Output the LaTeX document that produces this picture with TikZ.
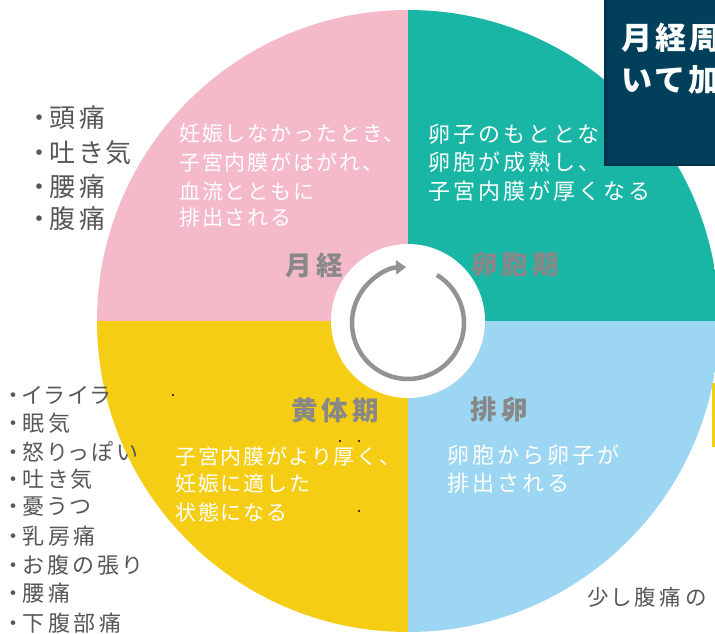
\documentclass[tikz,border=0pt]{standalone}
\usepackage{fontspec}
\usetikzlibrary{arrows.meta}
\newfontfamily\jpList[LetterSpace=14,RawFeature=+palt]{Noto Sans CJK JP}
\newfontfamily\jpListS[LetterSpace=16,RawFeature=+palt]{Noto Sans CJK JP}
\newfontfamily\jpSmall[LetterSpace=18,RawFeature=+palt]{Noto Sans CJK JP}
\newfontfamily\jpBody[LetterSpace=9]{Noto Sans CJK JP}
\newfontfamily\jpBodyW[LetterSpace=14]{Noto Sans CJK JP}
\newfontfamily\jpLab[LetterSpace=16]{Noto Sans CJK JP}
\newfontfamily\jpHead[LetterSpace=10]{Noto Sans CJK JP}
\definecolor{cpink}{HTML}{F5BACA}
\definecolor{cteal}{HTML}{19B6A5}
\definecolor{cyellow}{HTML}{F5CD14}
\definecolor{cblue}{HTML}{9DD6F2}
\definecolor{cdark}{HTML}{023F5B}
\definecolor{cdarkb}{HTML}{01304A}
\definecolor{clab}{HTML}{888888}
\definecolor{ctext}{HTML}{575757}
\definecolor{carrow}{HTML}{939393}
\begin{document}
\begin{tikzpicture}[x=1pt,y=-1pt,
  listA/.style={anchor=west,inner sep=0pt,text=ctext,font=\jpList\fontsize{26}{26}\selectfont},
  listB/.style={anchor=west,inner sep=0pt,text=ctext,font=\jpListS\fontsize{22}{22}\selectfont},
  small/.style={anchor=west,inner sep=0pt,text=ctext,font=\jpSmall\fontsize{21.5}{21.5}\selectfont},
  body/.style={anchor=west,inner sep=0pt,text=white,font=\jpBody\fontsize{21}{21}\selectfont},
  bodyw/.style={anchor=west,inner sep=0pt,text=white,font=\jpBodyW\fontsize{22}{22}\selectfont},
  lab/.style={inner sep=0pt,text=clab,font=\jpLab\bfseries\fontsize{26.5}{26.5}\selectfont},
  head/.style={anchor=west,inner sep=0pt,text=white,font=\jpHead\bfseries\fontsize{31}{31}\selectfont},
  speck/.style={fill=black,circle,inner sep=0pt,minimum size=2.4pt}]
\useasboundingbox (0,0) rectangle (715,634);
\fill[white] (0,0) rectangle (715,634);
\coordinate (C) at (408,321);
\begin{scope}
\clip (C) circle[radius=311];
\fill[cpink] (C) rectangle (0,0);
\fill[cteal] (C) rectangle (740,0);
\fill[cyellow] (C) rectangle (0,640);
\fill[cblue] (C) rectangle (740,640);
\end{scope}
\fill[white] (C) circle[radius=77];
\coordinate (AC) at (408,323);
\draw[carrow,line width=4.5pt,-{Triangle[length=10pt,width=14pt]}]
  ([shift={(-59:56)}]AC) arc[start angle=-59,end angle=268,radius=56];
% quadrant labels
\node[lab] (lm) at (314,265) {月経};
\node[lab] (lf) at (515,265) {卵胞期};
\node[lab] (ll) at (335,410) {黄体期};
\node[lab] (lo) at (499,410) {排卵};
% body texts
\node[body] (p1) at (179,134) {妊娠しなかったとき、};
\node[body] (p2) at (179,162) {子宮内膜がはがれ、};
\node[body] (p3) at (179,191) {血流とともに};
\node[body] (p4) at (179,218) {排出される};
\node[bodyw] (t1) at (428,134) {卵子のもととなる};
\node[bodyw] (t2) at (428,162) {卵胞が成熟し、};
\node[bodyw] (t3) at (428,191) {子宮内膜が厚くなる};
\node[body] (y1) at (175,456) {子宮内膜がより厚く、};
\node[body] (y2) at (175,484) {妊娠に適した};
\node[body] (y3) at (175,512) {状態になる};
\node[bodyw] (b1) at (447,455) {卵胞から卵子が};
\node[bodyw] (b2) at (447,483) {排出される};
% left lists
\node[listA] (a1) at (33,118) {・頭痛};
\node[listA] (a2) at (33,153) {・吐き気};
\node[listA] (a3) at (33,187) {・腰痛};
\node[listA] (a4) at (33,219) {・腹痛};
\node[listB] (c1) at (8,395) {・イライラ};
\node[listB] (c2) at (8,423) {・眠気};
\node[listB] (c3) at (8,452) {・怒りっぽい};
\node[listB] (c4) at (8,479) {・吐き気};
\node[listB] (c5) at (8,507) {・憂うつ};
\node[listB] (c6) at (8,536) {・乳房痛};
\node[listB] (c7) at (8,565) {・お腹の張り};
\node[listB] (c8) at (8,593) {・腰痛};
\node[listB] (c9) at (8,623) {・下腹部痛};
\node[small] (sm) at (587,597) {少し腹痛の};
% specks
\node[speck] (s1) at (173,395) {};
\node[speck] (s2) at (340,441) {};
\node[speck] (s3) at (359,441) {};
\node[speck] (s4) at (359,511) {};
% right edge yellow line
\fill[cyellow] (712,383) rectangle (715,447);
% dark box
\fill[cdarkb] (604,0) rectangle (716,166);
\fill[cdark] (606.5,0) rectangle (716,163.5);
\node[head] (h1) at (621,38) {月経周};
\node[head] (h2) at (621,80) {いて加};
\end{tikzpicture}
\end{document}
